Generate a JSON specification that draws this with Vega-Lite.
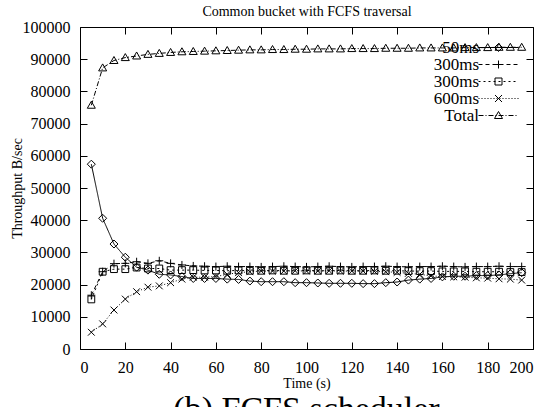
{
  "$schema": "https://vega.github.io/schema/vega-lite/v6.json",
  "width": 453,
  "height": 322,
  "autosize": {"type": "none"},
  "padding": {"left": 80, "top": 27, "right": 17, "bottom": 58},
  "background": "white",
  "title": {"text": "(b) FCFS scheduler", "orient": "bottom", "anchor": "middle", "fontSize": 34, "font": "Liberation Serif, Times New Roman, Times, serif", "fontWeight": "normal", "color": "black", "offset": 3},
  "config": {
    "view": {"stroke": null},
    "axis": {"grid": false, "domainColor": "black", "tickColor": "black", "labelColor": "black", "titleColor": "black", "labelFont": "Liberation Serif, Times New Roman, Times, serif", "titleFont": "Liberation Serif, Times New Roman, Times, serif", "titleFontWeight": "normal", "labelFontSize": 16, "titleFontSize": 14, "tickSize": -7, "domainWidth": 1, "tickWidth": 1}
  },
  "data": {"values": [
    {"t": 5, "50ms": 57400, "300ms a": 16700, "300ms b": 15400, "600ms": 5200, "Total": 75700},
    {"t": 10, "50ms": 40600, "300ms a": 24000, "300ms b": 24000, "600ms": 7800, "Total": 87300},
    {"t": 15, "50ms": 32600, "300ms a": 26500, "300ms b": 24800, "600ms": 12100, "Total": 89600},
    {"t": 20, "50ms": 28500, "300ms a": 26600, "300ms b": 24800, "600ms": 15500, "Total": 90500},
    {"t": 25, "50ms": 25400, "300ms a": 27100, "300ms b": 25300, "600ms": 17800, "Total": 91000},
    {"t": 30, "50ms": 24500, "300ms a": 26600, "300ms b": 25000, "600ms": 19200, "Total": 91500},
    {"t": 35, "50ms": 23200, "300ms a": 27400, "300ms b": 25000, "600ms": 19600, "Total": 91800},
    {"t": 40, "50ms": 23000, "300ms a": 26600, "300ms b": 24500, "600ms": 20600, "Total": 92100},
    {"t": 45, "50ms": 22500, "300ms a": 26100, "300ms b": 24500, "600ms": 21700, "Total": 92300},
    {"t": 50, "50ms": 21900, "300ms a": 25800, "300ms b": 24500, "600ms": 22300, "Total": 92400},
    {"t": 55, "50ms": 21900, "300ms a": 25700, "300ms b": 24400, "600ms": 22300, "Total": 92500},
    {"t": 60, "50ms": 21900, "300ms a": 25600, "300ms b": 24400, "600ms": 22500, "Total": 92600},
    {"t": 65, "50ms": 21700, "300ms a": 25700, "300ms b": 24300, "600ms": 23200, "Total": 92700},
    {"t": 70, "50ms": 21600, "300ms a": 25600, "300ms b": 24400, "600ms": 23700, "Total": 92800},
    {"t": 75, "50ms": 21100, "300ms a": 25600, "300ms b": 24300, "600ms": 24000, "Total": 92900},
    {"t": 80, "50ms": 20900, "300ms a": 25500, "300ms b": 24300, "600ms": 24200, "Total": 92900},
    {"t": 85, "50ms": 20900, "300ms a": 25600, "300ms b": 24400, "600ms": 24200, "Total": 93000},
    {"t": 90, "50ms": 20900, "300ms a": 25700, "300ms b": 24300, "600ms": 24200, "Total": 93000},
    {"t": 95, "50ms": 20600, "300ms a": 25600, "300ms b": 24300, "600ms": 24300, "Total": 93100},
    {"t": 100, "50ms": 20600, "300ms a": 25500, "300ms b": 24400, "600ms": 24200, "Total": 93100},
    {"t": 105, "50ms": 20500, "300ms a": 25600, "300ms b": 24300, "600ms": 24200, "Total": 93200},
    {"t": 110, "50ms": 20400, "300ms a": 25700, "300ms b": 24300, "600ms": 24300, "Total": 93200},
    {"t": 115, "50ms": 20400, "300ms a": 25600, "300ms b": 24400, "600ms": 24200, "Total": 93200},
    {"t": 120, "50ms": 20400, "300ms a": 25500, "300ms b": 24300, "600ms": 24200, "Total": 93300},
    {"t": 125, "50ms": 20300, "300ms a": 25600, "300ms b": 24300, "600ms": 24200, "Total": 93300},
    {"t": 130, "50ms": 20300, "300ms a": 25600, "300ms b": 24400, "600ms": 24100, "Total": 93300},
    {"t": 135, "50ms": 20600, "300ms a": 25700, "300ms b": 24300, "600ms": 24000, "Total": 93400},
    {"t": 140, "50ms": 20800, "300ms a": 25600, "300ms b": 24300, "600ms": 23800, "Total": 93400},
    {"t": 145, "50ms": 21400, "300ms a": 25500, "300ms b": 24200, "600ms": 23500, "Total": 93400},
    {"t": 150, "50ms": 21700, "300ms a": 25600, "300ms b": 24200, "600ms": 23200, "Total": 93500},
    {"t": 155, "50ms": 21900, "300ms a": 25600, "300ms b": 24200, "600ms": 22700, "Total": 93500},
    {"t": 160, "50ms": 22400, "300ms a": 25700, "300ms b": 24100, "600ms": 22500, "Total": 93500},
    {"t": 165, "50ms": 22600, "300ms a": 25600, "300ms b": 24100, "600ms": 22400, "Total": 93500},
    {"t": 170, "50ms": 22600, "300ms a": 25500, "300ms b": 24100, "600ms": 22300, "Total": 93600},
    {"t": 175, "50ms": 22800, "300ms a": 25600, "300ms b": 24000, "600ms": 22100, "Total": 93600},
    {"t": 180, "50ms": 22800, "300ms a": 25600, "300ms b": 24000, "600ms": 22000, "Total": 93600},
    {"t": 185, "50ms": 23000, "300ms a": 25700, "300ms b": 24000, "600ms": 21800, "Total": 93700},
    {"t": 190, "50ms": 23400, "300ms a": 25600, "300ms b": 23900, "600ms": 21700, "Total": 93700},
    {"t": 195, "50ms": 23700, "300ms a": 25600, "300ms b": 23900, "600ms": 21400, "Total": 93700}
  ]},
  "transform": [{"fold": ["50ms", "300ms a", "300ms b", "600ms", "Total"], "as": ["series", "v"]}],
  "layer": [
    {
      "mark": {"type": "line", "color": "black", "strokeWidth": 1},
      "encoding": {
        "x": {"field": "t", "type": "quantitative", "scale": {"domain": [0, 200], "nice": false},
              "axis": {"orient": "bottom", "values": [0, 20, 40, 60, 80, 100, 120, 140, 160, 180, 200], "title": "Time (s)", "labelPadding": 17, "titlePadding": 1}},
        "y": {"field": "v", "type": "quantitative", "scale": {"domain": [0, 100000], "nice": false},
              "axis": {"orient": "left", "values": [0, 10000, 20000, 30000, 40000, 50000, 60000, 70000, 80000, 90000, 100000], "format": "d", "title": "Throughput B/sec", "labelPadding": 17, "titlePadding": -2}},
        "strokeDash": {"field": "series", "type": "nominal",
                       "scale": {"domain": ["50ms", "300ms a", "300ms b", "600ms", "Total"], "range": [[1, 0], [4, 3], [2, 3], [1, 2], [5, 2, 1, 2]]},
                       "legend": null}
      }
    },
    {
      "mark": {"type": "point", "filled": false, "color": "black", "strokeWidth": 1, "size": 64, "opacity": 1},
      "encoding": {
        "x": {"field": "t", "type": "quantitative", "scale": {"domain": [0, 200], "nice": false},
              "axis": {"orient": "top", "labels": false, "values": [0, 20, 40, 60, 80, 100, 120, 140, 160, 180, 200], "title": "Common bucket with FCFS traversal", "titlePadding": 8}},
        "y": {"field": "v", "type": "quantitative", "scale": {"domain": [0, 100000], "nice": false},
              "axis": {"orient": "right", "labels": false, "values": [0, 10000, 20000, 30000, 40000, 50000, 60000, 70000, 80000, 90000, 100000], "title": null}},
        "shape": {"field": "series", "type": "nominal",
                  "scale": {"domain": ["50ms", "300ms a", "300ms b", "600ms", "Total"],
                            "range": ["M0,-1L1,0L0,1L-1,0Z", "M-1,0H1M0,-1V1", "M-0.85,-0.85H0.85V0.85H-0.85Z", "M-0.85,-0.85L0.85,0.85M-0.85,0.85L0.85,-0.85", "M0,-1L1,0.75H-1Z"]},
                  "legend": null}
      }
    },
    {
      "transform": [{"filter": "false"}],
      "mark": {"type": "point", "filled": false, "color": "black", "strokeWidth": 1},
      "encoding": {
        "x": {"field": "t", "type": "quantitative", "scale": {"domain": [0, 200], "nice": false}, "axis": null},
        "y": {"field": "v", "type": "quantitative", "scale": {"domain": [0, 100000], "nice": false}, "axis": null},
        "shape": {"field": "series", "type": "nominal",
                  "scale": {"domain": ["50ms", "300ms a", "300ms b", "600ms", "Total"],
                            "range": [
                              "M50,0H90M70,-4L74,0L70,4L66,0Z",
                              "M50,0H54M57,0H61M64,0H68M71,0H75M78,0H82M85,0H89M66,0H74M70,-4V4",
                              "M50,0H52M55,0H57M60,0H62M65,0H67M70,0H72M75,0H77M80,0H82M85,0H87M66.5,-3.5H73.5V3.5H66.5Z",
                              "M50,0H51M53,0H54M56,0H57M59,0H60M62,0H63M65,0H66M68,0H69M71,0H72M74,0H75M77,0H78M80,0H81M83,0H84M86,0H87M89,0H90M66.5,-3.5L73.5,3.5M66.5,3.5L73.5,-3.5",
                              "M50,0H55M57,0H58M60,0H65M67,0H68M70,0H75M77,0H78M80,0H85M87,0H88M70,-4L74,3H66Z"
                            ]},
                  "legend": {"title": null, "orient": "top-right", "offset": 12, "padding": 0,
                             "labelExpr": "replace(replace(datum.label, ' a', ''), ' b', '')",
                             "labelAlign": "right", "labelOffset": 42, "labelBaseline": "middle",
                             "labelFont": "Liberation Serif, Times New Roman, Times, serif", "labelFontSize": 17, "labelColor": "black",
                             "symbolSize": 4, "symbolStrokeWidth": 1, "symbolStrokeColor": "black", "symbolOpacity": 1,
                             "rowPadding": -2.5}}
      }
    }
  ],
  "resolve": {"scale": {"shape": "independent"}, "axis": {"x": "independent", "y": "independent"}}
}
